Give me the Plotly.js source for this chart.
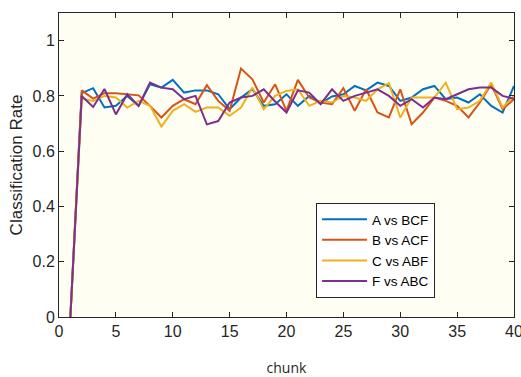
<!DOCTYPE html>
<html>
<head>
<meta charset="utf-8">
<script src="https://cdn.plot.ly/plotly-3.0.1.min.js"></script>
<style>html,body{margin:0;padding:0;background:#fff;}#chart{width:521px;height:377px;}</style>
</head>
<body>
<div id="chart"></div>
<script>
const chunks = Array.from({length: 40}, (_, i) => i + 1);
const seriesNames = ["A vs BCF", "B vs ACF", "C vs ABF", "F vs ABC"];
const seriesColors = ["#0072BD", "#D95319", "#EDB120", "#7E2F8E"];
const aVsBCF = [0, 0.81, 0.828, 0.758, 0.764, 0.80, 0.764, 0.842, 0.83, 0.858,
  0.812, 0.82, 0.82, 0.806, 0.752, 0.794, 0.824, 0.764, 0.77, 0.806,
  0.764, 0.80, 0.772, 0.798, 0.806, 0.836, 0.82, 0.848, 0.836, 0.782,
  0.794, 0.824, 0.836, 0.788, 0.794, 0.776, 0.806, 0.764, 0.74, 0.836];
const bVsACF = [0, 0.82, 0.79, 0.81, 0.81, 0.806, 0.802, 0.764, 0.722, 0.764,
  0.788, 0.77, 0.839, 0.782, 0.746, 0.899, 0.86, 0.776, 0.842, 0.746,
  0.858, 0.794, 0.776, 0.77, 0.828, 0.746, 0.824, 0.74, 0.722, 0.824,
  0.698, 0.74, 0.794, 0.782, 0.764, 0.722, 0.776, 0.842, 0.752, 0.788];
const cVsABF = [0, 0.79, 0.782, 0.80, 0.794, 0.758, 0.782, 0.764, 0.689, 0.746,
  0.77, 0.742, 0.758, 0.758, 0.728, 0.758, 0.83, 0.752, 0.80, 0.818,
  0.824, 0.764, 0.782, 0.776, 0.80, 0.794, 0.782, 0.824, 0.846, 0.722,
  0.794, 0.794, 0.794, 0.848, 0.752, 0.758, 0.782, 0.848, 0.758, 0.80];
const fVsABC = [0, 0.80, 0.76, 0.825, 0.733, 0.806, 0.764, 0.848, 0.83, 0.824,
  0.788, 0.80, 0.697, 0.709, 0.776, 0.794, 0.80, 0.824, 0.78, 0.74,
  0.82, 0.812, 0.77, 0.824, 0.782, 0.80, 0.812, 0.824, 0.80, 0.764,
  0.788, 0.758, 0.794, 0.788, 0.806, 0.824, 0.83, 0.83, 0.80, 0.79];
const xTicks = [0, 5, 10, 15, 20, 25, 30, 35, 40];
const yTicks = [0, 0.2, 0.4, 0.6, 0.8, 1];

const allValues = [aVsBCF, bVsACF, cVsABF, fVsABC];
const traces = allValues.map((vals, i) => ({
  x: chunks, y: vals, type: 'scatter', mode: 'lines', name: seriesNames[i],
  line: {color: seriesColors[i], width: 2}
}));

const axisCommon = {
  showgrid: false, zeroline: false, showline: true, linecolor: '#262626', linewidth: 1,
  mirror: 'ticks', ticks: 'inside', ticklen: 5, tickcolor: '#262626',
  ticklabeloverflow: 'allow',
  tickfont: {family: 'Liberation Sans, Arial, sans-serif', size: 16, color: '#262626'}
};

const layout = {
  width: 521, height: 377,
  margin: {l: 59, r: 7, t: 13, b: 60},
  paper_bgcolor: '#ffffff', plot_bgcolor: '#fffef3',
  showlegend: true,
  xaxis: Object.assign({}, axisCommon, {
    range: [0, 40], tickvals: xTicks,
    title: {text: 'chunk', font: {family: 'Open Sans, sans-serif', size: 14, color: '#262626'}, standoff: 27}
  }),
  yaxis: Object.assign({}, axisCommon, {
    range: [0, 1.1], tickvals: yTicks,
    title: {text: 'Classification Rate', font: {family: 'Liberation Sans, Arial, sans-serif', size: 17, color: '#262626'}, standoff: 5}
  }),
  legend: {
    x: 0.565, y: 0.375, xanchor: 'left', yanchor: 'top',
    bgcolor: '#ffffff', bordercolor: '#262626', borderwidth: 1,
    font: {family: 'Liberation Sans, Arial, sans-serif', size: 13.5, color: '#000'},
    tracegroupgap: 0, itemwidth: 45
  }
};

Plotly.newPlot('chart', traces, layout, {displayModeBar: false, staticPlot: true});
</script>
</body>
</html>
